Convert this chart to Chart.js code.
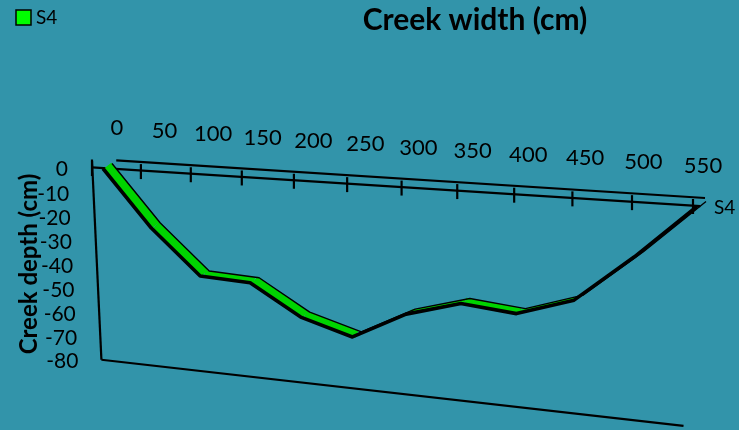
<!DOCTYPE html>
<html>
<head>
<meta charset="utf-8">
<script src="https://cdn.jsdelivr.net/npm/chart.js@4.4.1/dist/chart.umd.min.js"></script>
<style>
  html, body { margin: 0; padding: 0; background: #3294aa; }
  #wrap { width: 739px; height: 430px; }
</style>
</head>
<body>
<div id="wrap"><canvas id="creekChart" width="739" height="430"></canvas></div>
<script>
//creek width categories (cm)
const widthLabels = ['0', '50', '100', '150', '200', '250', '300', '350', '400', '450', '500', '550'];

//depth read at each width, series S4 (cm)
const depthS4 = [0, -23, -41, -42, -54, -60, -49, -43, -45, -38, -20, 0];

//depth axis ticks
const depthTicks = [0, -10, -20, -30, -40, -50, -60, -70, -80];

const seriesName = 'S4';


//screen corners of the tilted plot plane: top-left, top-right, bottom-right, bottom-left
const plane = [[103, 168], [697, 206], [687, 422], [104, 360]];
//screen offset from the front edge of the ribbon to its back edge
const ribbonDepth = [9, -4.5];

//square -> quad perspective mapping
function makeProjection(q) {
    const [x0, y0] = q[0], [x1, y1] = q[1], [x2, y2] = q[2], [x3, y3] = q[3];
    const dx1 = x1 - x2, dx2 = x3 - x2, dx3 = x0 - x1 + x2 - x3;
    const dy1 = y1 - y2, dy2 = y3 - y2, dy3 = y0 - y1 + y2 - y3;
    const det = dx1 * dy2 - dx2 * dy1;
    const g = (dx3 * dy2 - dx2 * dy3) / det;
    const h = (dx1 * dy3 - dx3 * dy1) / det;
    const a = x1 - x0 + g * x1, b = x3 - x0 + h * x3, c = x0;
    const d = y1 - y0 + g * y1, e = y3 - y0 + h * y3, f = y0;
    return function(u, v) {
        const w = g * u + h * v + 1;
        return [(a * u + b * v + c) / w, (d * u + e * v + f) / w];
    };
}
const proj = makeProjection(plane);

//chart pixel -> 0..1 position inside chart area
function toUV(chart, x, y) {
    const a = chart.chartArea;
    return [(x - a.left) / (a.right - a.left), (y - a.top) / (a.bottom - a.top)];
}
function projPx(chart, x, y) {
    const uv = toUV(chart, x, y);
    return proj(uv[0], uv[1]);
}

//visible width of the ribbon top face for one segment (<= 0 means hidden)
function faceWidth(ctx) {
    const chart = ctx.chart;
    const a = projPx(chart, ctx.p0.x, ctx.p0.y);
    const b = projPx(chart, ctx.p1.x, ctx.p1.y);
    const dx = b[0] - a[0], dy = b[1] - a[1];
    const len = Math.hypot(dx, dy) || 1;
    return (dy * ribbonDepth[0] - dx * ribbonDepth[1]) / len;
}

const ctxProto = CanvasRenderingContext2D.prototype;
const pathProto = Path2D.prototype;
const origMove = ctxProto.moveTo, origLine = ctxProto.lineTo;
const origPMove = pathProto.moveTo, origPLine = pathProto.lineTo;

//draws datasets, axes and labels on the tilted plane
const tiltPlugin = {
    id: 'tilt',
    beforeDatasetsDraw(chart) {
        const ctx = chart.ctx;
        const xs = chart.scales.x, ys = chart.scales.y;
        const seg = (p, q) => { ctx.beginPath(); ctx.moveTo(p[0], p[1]); ctx.lineTo(q[0], q[1]); ctx.stroke(); };
        ctx.save();
        ctx.strokeStyle = '#000';
        ctx.lineWidth = 2.2;

        //back edge, front axis, wall and floor
        const b0 = proj(0.01, 0), b1 = proj(1, 0);
        seg([b0[0] + 8, b0[1] - 8], [b1[0] + 8, b1[1] - 8]);
        seg(proj(-0.021, 0), proj(1.005, 0));
        seg(proj(-0.021, -0.04), proj(-0.005, 1));
        seg(proj(-0.005, 1), proj(0.995, 1.02));

        //width ticks + labels
        ctx.fillStyle = '#000';
        ctx.font = '22px Lato';
        ctx.textAlign = 'center';
        ctx.textBaseline = 'middle';
        widthLabels.forEach((lab, i) => {
            const u = toUV(chart, xs.getPixelForValue(i), 0)[0];
            const t = proj(u, 0);
            const tx = t[0] - (11 - 7 * u);
            seg([tx, t[1] - 7], [tx, t[1] + 8]);
            ctx.fillText(lab, t[0] + 14 - 8 * u, t[1] - 40);
        });

        //depth labels
        ctx.font = '21px Lato';
        ctx.textAlign = 'right';
        depthTicks.forEach(val => {
            const v = toUV(chart, 0, ys.getPixelForValue(val))[1];
            const t = proj(0, v);
            ctx.fillText(String(val), t[0] - 35 + 9.4 * v, t[1] + 1.5);
        });
        ctx.restore();
    },
    beforeDatasetDraw(chart, args) {
        const sh = chart.data.datasets[args.index].shift || [0, 0];
        const wrapFn = orig => function(x, y) {
            const p = projPx(chart, x, y);
            orig.call(this, p[0] + sh[0], p[1] + sh[1]);
        };
        ctxProto.moveTo = wrapFn(origMove);
        ctxProto.lineTo = wrapFn(origLine);
        pathProto.moveTo = wrapFn(origPMove);
        pathProto.lineTo = wrapFn(origPLine);
    },
    afterDatasetDraw() {
        ctxProto.moveTo = origMove;
        ctxProto.lineTo = origLine;
        pathProto.moveTo = origPMove;
        pathProto.lineTo = origPLine;
    },
    afterDraw(chart) {
        const ctx = chart.ctx;
        const ds = chart.data.datasets.find(d => d.label === seriesName);
        ctx.save();

        //legend
        ctx.fillStyle = ds.backgroundColor;
        ctx.fillRect(16, 10, 15, 15);
        ctx.strokeStyle = '#000';
        ctx.lineWidth = 1.5;
        ctx.strokeRect(16, 10, 15, 15);
        ctx.fillStyle = '#000';
        ctx.font = '19px Lato';
        ctx.textAlign = 'left';
        ctx.textBaseline = 'alphabetic';
        ctx.fillText(ds.label, 36, 24);

        //series label at the end of the axis
        const end = proj(1, 0);
        ctx.fillText(ds.label, end[0] + 17, end[1] + 8);

        //depth axis title
        ctx.translate(29, 264);
        ctx.rotate(-Math.PI / 2);
        ctx.textAlign = 'center';
        ctx.textBaseline = 'middle';
        ctx.font = 'bold 24px Lato';
        ctx.fillText('Creek depth (cm)', 0, 0);
        ctx.restore();
    }
};

var creekConfig = {
    type: 'line',
    data: {
        labels: widthLabels,
        datasets: [{
            //thin back edge of the ribbon (drawn on top)
            label: seriesName + ' back',
            data: depthS4,
            borderColor: '#000',
            borderWidth: 1.4,
            borderJoinStyle: 'round',
            pointRadius: 0,
            clip: false,
            shift: ribbonDepth
        },
        {
            //heavy front edge
            label: seriesName + ' front',
            data: depthS4,
            borderColor: '#000',
            borderWidth: 3.6,
            borderJoinStyle: 'round',
            pointRadius: 0,
            clip: false,
            shift: [0, 0.5]
        },
        {
            //green top face
            label: seriesName,
            data: depthS4,
            borderColor: '#00d400',
            backgroundColor: '#00ff00',
            borderWidth: 6,
            borderCapStyle: 'butt',
            pointRadius: 0,
            clip: false,
            shift: [ribbonDepth[0] / 2, ribbonDepth[1] / 2],
            segment: {
                borderWidth: ctx => Math.max(0.5, faceWidth(ctx)),
                borderColor: ctx => faceWidth(ctx) > 0 ? '#00d400' : 'rgba(0,0,0,0)'
            }
        }]
    },
    options: {
        responsive: false,
        animation: false,
        events: [],
        layout: {
            padding: { left: 211, right: 0, top: 2, bottom: 10 }
        },
        elements: {
            line: { tension: 0 }
        },
        scales: {
            x: { type: 'category', display: false, offset: false },
            y: { type: 'linear', display: false, min: -80, max: 0 }
        },
        plugins: {
            legend: { display: false },
            tooltip: { enabled: false },
            title: {
                display: true,
                text: 'Creek width (cm)',
                color: '#000',
                font: { family: 'Lato', size: 30, weight: 'bold' },
                padding: { top: 0, bottom: 0 }
            }
        }
    },
    plugins: [tiltPlugin]
};

window.onload = function() {
    var ctx = document.getElementById('creekChart').getContext('2d');
    window.creekChart = new Chart(ctx, creekConfig);
};
</script>
</body>
</html>
